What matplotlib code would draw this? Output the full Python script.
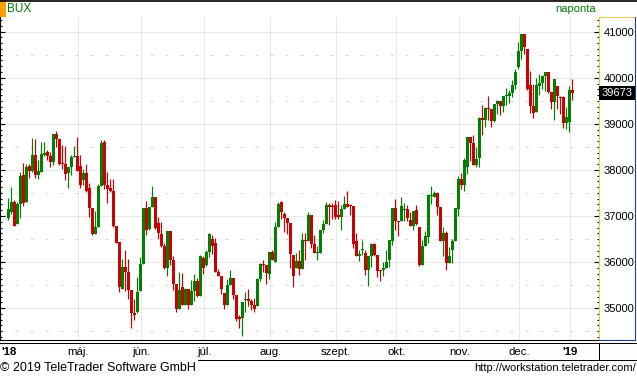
import matplotlib
matplotlib.use("Agg")
import matplotlib.pyplot as plt
from matplotlib.lines import Line2D
from matplotlib.patches import Rectangle
from matplotlib.ticker import MultipleLocator
from matplotlib.transforms import blended_transform_factory

plt.rcParams["font.family"] = ["Liberation Sans", "DejaVu Sans"]
plt.rcParams["lines.scale_dashes"] = False

# daily BUX candles, April 2018 - 2 Jan 2019
opens = [
    36957, 37086, 37300, 36827, 37260, 37881, 37303, 38076, 37975, 38314,
    37881, 37953, 38328, 38379, 38292, 38170, 38769, 38660, 38148, 38119,
    37924, 38061, 38271, 38292, 38076, 37772, 37924, 37599, 37166, 36610,
    36754, 37642, 38596, 37671, 37599, 37549, 36776, 36444, 35419, 35888,
    35780, 35397, 34899, 34913, 35375, 35953, 37180, 36720, 37189, 37413,
    36856, 36609, 36348, 35877, 36674, 36044, 35522, 34986, 35457, 35066,
    35414, 35066, 35370, 35588, 35261, 36087, 35935, 36218, 36500, 36413,
    35783, 35696, 35327, 35066, 35501, 35653, 35283, 34812, 34790, 35167,
    35196, 35153, 35059, 35051, 35631, 35957, 35935, 35747, 36218, 36000,
    36761, 37305, 37044, 36957, 36848, 36153, 35870, 36021, 35856, 36482,
    36468, 37022, 36388, 36194, 36194, 36698, 36828, 37230, 37216, 37230,
    37015, 36986, 37159, 37260, 37231, 37216, 36468, 36122, 36252, 36201,
    35834, 36136, 36396, 36158, 35834, 35834, 35877, 36050, 36468, 37173,
    36900, 36900, 37130, 37152, 36914, 36792, 37130, 36763, 35928, 36352,
    36547, 37432, 37404, 37490, 37188, 36468, 36626, 35971, 36252, 36468,
    37159, 37794, 37679, 38062, 38706, 38576, 38098, 38257, 39118, 39082,
    39335, 39313, 39053, 39422, 39487, 39385, 39595, 39595, 39660, 39848,
    40232, 40572, 40941, 40615, 39834, 39378, 39248, 39812, 39885, 40029,
    40116, 39689, 39472, 39812, 39588, 39574, 39017, 39038, 39740,
]
highs = [
    37397, 37621, 37340, 37300, 37953, 38141, 38119, 38119, 38682, 38660,
    38206, 38596, 38610, 38437, 38393, 38769, 38855, 38660, 38545, 38509,
    38061, 38321, 38509, 38725, 38321, 38025, 38119, 37715, 37166, 37108,
    37686, 38653, 38639, 37953, 37801, 37809, 36776, 36444, 36061, 36256,
    36061, 35397, 35202, 35671, 36112, 37180, 37318, 37200, 37653, 37413,
    36986, 36863, 36413, 36674, 36674, 36131, 35522, 35783, 35761, 35435,
    35414, 35609, 35740, 35653, 36153, 36131, 36261, 36631, 36587, 36522,
    35848, 35696, 35327, 35631, 35827, 35653, 35283, 34856, 35131, 35348,
    35413, 35203, 35218, 35653, 35979, 36044, 35935, 36218, 36261, 36870,
    37305, 37327, 37087, 36957, 36848, 36153, 36196, 36266, 36626, 36626,
    37087, 37022, 36590, 36352, 36698, 36914, 37303, 37274, 37288, 37346,
    37324, 37245, 37432, 37540, 37260, 37216, 36626, 36266, 36482, 36266,
    36136, 36410, 36424, 36158, 35834, 35992, 36266, 36482, 37173, 37368,
    36900, 37418, 37288, 37231, 37094, 37108, 37231, 36763, 36482, 36676,
    37468, 37648, 37540, 37519, 37188, 36756, 36676, 36324, 36511, 37173,
    37864, 37925, 38257, 38706, 38706, 38749, 38496, 39147, 39400, 39364,
    39595, 39313, 39422, 39509, 39487, 39595, 39769, 39733, 39942, 40188,
    40767, 40941, 40941, 40615, 40138, 39870, 40000, 40087, 40066, 40116,
    40116, 39689, 39964, 39812, 39595, 39595, 39357, 39812, 39964,
]
lows = [
    36906, 37050, 36780, 36820, 36957, 37216, 37303, 37830, 37950, 37830,
    37801, 37953, 38299, 38213, 38061, 38105, 38494, 38105, 38018, 37772,
    37606, 37888, 38271, 37967, 37606, 37679, 37512, 36971, 36588, 36610,
    36754, 37642, 37577, 37282, 37512, 36762, 36415, 35354, 35419, 35383,
    35195, 34574, 34740, 34899, 35375, 35953, 36581, 36700, 37189, 36725,
    36508, 36327, 35848, 35703, 35943, 35399, 34921, 34986, 35066, 35066,
    34986, 35066, 35160, 35240, 35261, 35740, 35913, 36109, 36182, 35783,
    35696, 35312, 34986, 35066, 35501, 35196, 34725, 34573, 34399, 34913,
    35044, 34964, 34913, 35051, 35595, 35783, 35522, 35638, 36044, 36000,
    36761, 36935, 36653, 36609, 35870, 35464, 35870, 35726, 35856, 36050,
    36468, 36316, 36208, 36050, 36194, 36640, 36828, 36813, 36943, 36943,
    36929, 36698, 37159, 37202, 37022, 36309, 36122, 36028, 36158, 35712,
    35474, 35884, 36122, 35668, 35582, 35690, 35877, 35884, 36381, 36698,
    36576, 36900, 36885, 36885, 36792, 36698, 36806, 35906, 35928, 36352,
    36424, 37260, 37404, 37029, 36468, 36122, 35820, 35971, 35978, 36468,
    37000, 37592, 37541, 37910, 38185, 38098, 38069, 38055, 38749, 38930,
    39075, 38930, 39031, 39212, 39198, 39255, 39400, 39444, 39574, 39762,
    40195, 40413, 40514, 39726, 39234, 39125, 39248, 39617, 39747, 39704,
    39668, 39320, 39075, 39320, 39205, 38901, 38887, 38821, 39509,
]
closes = [
    37144, 37296, 36783, 37253, 37859, 37289, 38054, 37975, 38314, 37881,
    37975, 38336, 38364, 38299, 38170, 38769, 38660, 38119, 38119, 37910,
    38061, 38278, 38292, 37975, 37671, 37924, 37534, 37166, 36610, 36754,
    37642, 38588, 37671, 37585, 37534, 36776, 36415, 35455, 35888, 35780,
    35397, 34899, 34856, 35361, 35953, 37180, 36689, 37190, 37413, 36747,
    36624, 36348, 35870, 36674, 36044, 35522, 34986, 35392, 35066, 35414,
    35066, 35370, 35588, 35261, 36131, 35870, 36218, 36609, 36355, 35783,
    35696, 35414, 35066, 35501, 35653, 35283, 34769, 34769, 35131, 35196,
    35153, 35059, 34986, 35631, 35957, 35935, 35761, 36218, 36044, 36761,
    37261, 37087, 36957, 36848, 36174, 35703, 36022, 35856, 36482, 36468,
    37022, 36388, 36208, 36208, 36698, 36828, 37230, 37202, 37202, 36979,
    36979, 37159, 37260, 37202, 37216, 36403, 36122, 36180, 36281, 35834,
    36136, 36396, 36158, 35798, 35812, 35870, 36007, 36482, 37173, 36900,
    36878, 37209, 37152, 36957, 36792, 37108, 36828, 35928, 36352, 36568,
    37447, 37461, 37490, 37202, 36468, 36626, 35971, 36136, 36460, 37173,
    37800, 37679, 38207, 38706, 38576, 38113, 38243, 39118, 39082, 39335,
    39313, 39060, 39422, 39487, 39385, 39595, 39617, 39660, 39848, 40116,
    40572, 40941, 40666, 39747, 39378, 39234, 39848, 39885, 40037, 40116,
    39689, 39472, 39964, 39610, 39566, 39017, 39140, 39726, 39673,
]

month_labels = ["'18", "máj.", "jún.", "júl.", "aug.", "szept.", "okt.",
                "nov.", "dec.", "'19"]
month_start = [0, 24, 45, 66, 88, 110, 130, 151, 171, 188]
price_levels = [35000, 36000, 37000, 38000, 39000, 40000, 41000]
half_levels = [34500, 35500, 36500, 37500, 38500, 39500, 40500]
last_price = 39673

W, H = 637, 377
GREEN = "#008000"
RED = "#cc0000"
GRID = "#d2d2d2"


def fx(px):
    return px / W


def fy(py):
    return 1 - py / H


def fig_line(fig, x0, y0, x1, y1, color="black", lw=0.75):
    fig.add_artist(Line2D([fx(x0), fx(x1)], [fy(y0), fy(y1)],
                          transform=fig.transFigure, color=color, lw=lw))


def main():
    fig = plt.figure(figsize=(W / 100, H / 100), dpi=100)
    ax = fig.add_axes([0, fy(340.3), fx(599), (340.3 - 17) / H])

    # grid: dotted on whole thousands and months, sparse dashes on the halves
    for v in price_levels:
        ax.axhline(v, color=GRID, lw=0.75, ls=(0, (0.72, 0.72)), zorder=0)
    for v in half_levels:
        ax.axhline(v, color="#d6d6d6", lw=0.75, ls=(0, (2.2, 8.6)), zorder=0)
    for s in month_start[1:]:
        ax.axvline(s - 0.67, color=GRID, lw=0.75, ls=(0, (0.72, 0.72)), zorder=0)

    # candles
    x = list(range(len(closes)))
    colors = [GREEN if c >= o else RED for o, c in zip(opens, closes)]
    ax.vlines(x, lows, highs, colors=colors, lw=0.85, zorder=2)
    bottoms = [min(o, c) for o, c in zip(opens, closes)]
    heights = [max(abs(c - o), 20) for o, c in zip(opens, closes)]
    ax.bar(x, heights, bottom=bottoms, width=0.95, color=colors, lw=0, zorder=3)

    ax.set_xlim(-2.77, 196.9)
    ax.set_ylim(34303, 41318)

    ax.spines["top"].set_visible(False)
    ax.spines["left"].set_linewidth(1.5)
    ax.spines["bottom"].set_linewidth(0.8)
    ax.spines["right"].set_color("#f0c450")
    ax.spines["right"].set_linewidth(0.8)

    ax.set_yticks(price_levels, labels=[str(v) for v in price_levels])
    ax.yaxis.set_minor_locator(MultipleLocator(125))
    ax.tick_params(axis="y", which="both", direction="in", left=True, right=True,
                   labelleft=False, labelright=True, labelsize=8, pad=3.3)
    ax.tick_params(axis="y", which="major", length=3.3, width=0.8)
    ax.tick_params(axis="y", which="minor", length=1.6, width=0.8)

    tick_pos = [0.3] + [s - 0.67 for s in month_start[1:]]
    ax.set_xticks(tick_pos, labels=month_labels)
    ax.tick_params(axis="x", length=0, labelsize=8.2, pad=4.5)
    for lab in ax.get_xticklabels():
        if lab.get_text().startswith("'"):
            lab.set_fontweight("bold")

    # last price box on the right scale
    tr = blended_transform_factory(ax.transAxes, ax.transData)
    ax.text(1 + 2.3 / 599, last_price, str(last_price), transform=tr,
            color="white", fontsize=8, ha="left", va="center", clip_on=False,
            bbox=dict(boxstyle="square,pad=0.2", fc="black", ec="none"))

    # frame around the chart
    fig_line(fig, 0, 0.5, 637, 0.5, lw=1.2)
    fig_line(fig, 0, 343.3, 637, 343.3)
    fig_line(fig, 598.5, 343.3, 598.5, 360)
    fig_line(fig, 198, 360, 637, 360)
    fig_line(fig, 599, 17, 635, 17, color="#f0c450")
    fig_line(fig, 635, 17, 635, 340, color="#1a3a9a")
    fig_line(fig, 599, 340, 635, 340, color="#1a3a9a")
    fig.add_artist(Rectangle((0, fy(16.7)), fx(5.5), 16.7 / H,
                             transform=fig.transFigure, color="#ff9f00", lw=0))

    fig.text(fx(7), fy(9), "BUX", color=GREEN, fontsize=8.5, va="center")
    fig.text(fx(596), fy(9), "naponta", color=GREEN, fontsize=8,
             ha="right", va="center")
    fig.text(fx(0), fy(367.7), "\u00a9 2019 TeleTrader Software GmbH",
             fontsize=9, va="center")
    fig.text(fx(636), fy(367.7), "http://workstation.teletrader.com/",
             fontsize=8, ha="right", va="center")

    fig.savefig("out.png", dpi=100)


if __name__ == "__main__":
    main()
